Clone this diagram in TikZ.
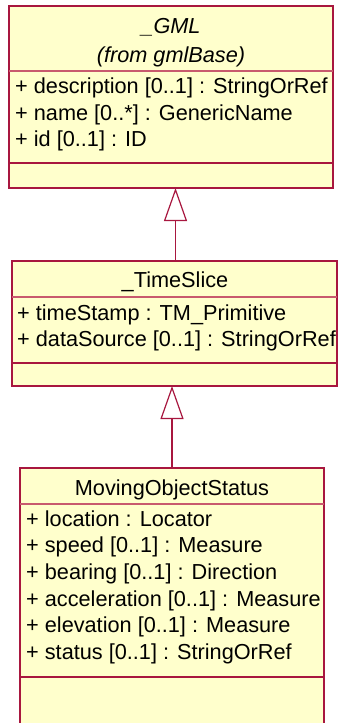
\documentclass[tikz,border=0pt]{standalone}
\usepackage{fontspec}
\setmainfont{Liberation Sans}
\usetikzlibrary{arrows.meta}
\definecolor{umlborder}{HTML}{A8173F}
\definecolor{umlsep}{HTML}{C85A6E}
\definecolor{umlfill}{HTML}{FFFFCC}
\begin{document}
\begin{tikzpicture}[x=1pt,y=-1pt,
  umlbox/.style={draw=umlborder, fill=umlfill, line width=1.2pt, inner sep=0pt, outer sep=0pt, anchor=north west},
  titlesep/.style={draw=umlsep, line width=1.2pt},
  compsep/.style={draw=umlborder, line width=1.2pt},
  attr/.style={anchor=base west, inner sep=0pt, font=\fontsize{21.7}{26.7}\selectfont},
  ttl/.style={anchor=base, inner sep=0pt, font=\fontsize{21.7}{26.7}\selectfont},
  gen/.style={draw=umlborder, line width=1.2pt, -{Triangle[open, length=33pt, width=23pt, fill=white]}}
]
\path[use as bounding box, clip] (0,0) rectangle (338,723);

% _GML
\node[umlbox, minimum width=324pt, minimum height=182pt] (gml) at (9,6) {};
\draw[titlesep] (gml.west |- 0,71) -- (gml.east |- 0,71);
\draw[compsep] (gml.west |- 0,163) -- (gml.east |- 0,163);
\node[ttl] (gmlname) at (171,33) {\itshape \_GML};
\node[ttl] (gmlfrom) at (171,62) {\itshape (from gmlBase)};
\node[attr] (a1) at (15,93.5) {+ description [0..1] : StringOrRef};
\node[attr] (a2) at (15,120.2) {+ name [0..*] : GenericName};
\node[attr] (a3) at (15,146.9) {+ id [0..1] : ID};

% _TimeSlice
\node[umlbox, minimum width=325pt, minimum height=125pt] (ts) at (12,261) {};
\draw[titlesep] (ts.west |- 0,297) -- (ts.east |- 0,297);
\draw[compsep] (ts.west |- 0,363) -- (ts.east |- 0,363);
\node[ttl] (tsname) at (175,287) {\_TimeSlice};
\node[attr] (b1) at (17,320) {+ timeStamp : TM\_Primitive};
\node[attr] (b2) at (17,346.7) {+ dataSource [0..1] : StringOrRef};

% MovingObjectStatus
\node[umlbox, minimum width=304pt, minimum height=270pt] (mos) at (20,468) {};
\draw[titlesep] (mos.west |- 0,504) -- (mos.east |- 0,504);
\draw[compsep] (mos.west |- 0,677) -- (mos.east |- 0,677);
\node[ttl] (mosname) at (172,495) {MovingObjectStatus};
\node[attr] (c1) at (26,526) {+ location : Locator};
\node[attr] (c2) at (26,552.7) {+ speed [0..1] : Measure};
\node[attr] (c3) at (26,579.3) {+ bearing [0..1] : Direction};
\node[attr] (c4) at (26,606) {+ acceleration [0..1] : Measure};
\node[attr] (c5) at (26,632.7) {+ elevation [0..1] : Measure};
\node[attr] (c6) at (26,659.3) {+ status [0..1] : StringOrRef};

% generalizations
\draw[gen] ([xshift=1pt]ts.north) -- ([xshift=1pt]ts.north |- gml.south);
\draw[gen] (mos.north) -- (mos.north |- ts.south);
\end{tikzpicture}
\end{document}
